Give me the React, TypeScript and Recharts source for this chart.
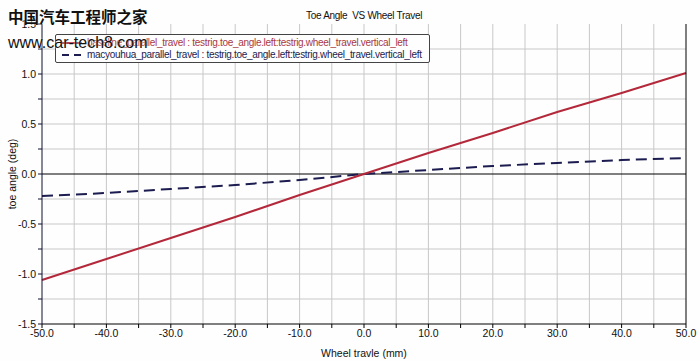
import {
  Line,
  LineChart,
  ReferenceLine,
  XAxis,
  YAxis,
} from "recharts";

const travel = [-50, -40, -30, -20, -10, 0, 10, 20, 30, 40, 50];
const baseline = [-1.06, -0.85, -0.64, -0.43, -0.21, 0.0, 0.21, 0.41, 0.62, 0.81, 1.01];
const macyouhua = [-0.22, -0.19, -0.15, -0.11, -0.06, 0.0, 0.04, 0.08, 0.11, 0.14, 0.16];

const xTicks = [
  -50, -45, -40, -35, -30, -25, -20, -15, -10, -5, 0, 5, 10, 15, 20, 25, 30, 35,
  40, 45, 50,
];
const yTicks = [
  -1.5, -1.25, -1.0, -0.75, -0.5, -0.25, 0, 0.25, 0.5, 0.75, 1.0, 1.25, 1.5,
];

const seriesNames = [
  "baseline_parallel_travel : testrig.toe_angle.left:testrig.wheel_travel.vertical_left",
  "macyouhua_parallel_travel : testrig.toe_angle.left:testrig.wheel_travel.vertical_left",
];

const data = travel.map((t, i) => ({
  travel: t,
  baseline: baseline[i],
  macyouhua: macyouhua[i],
}));

const RED = "#b3283a";
const NAVY = "#1c1c50";
const GRID = "#c8c8c8";
const FONT = "'Liberation Sans', Arial, sans-serif";

const formatX = (v: number) => (v % 10 === 0 ? v.toFixed(1) : "");
const formatY = (v: number) =>
  Math.abs(v * 2 - Math.round(v * 2)) < 1e-6 ? v.toFixed(1) : "";

export default function App() {
  return (
    <div
      style={{
        position: "absolute",
        left: 0,
        top: 0,
        width: 700,
        height: 361,
        background: "#fdfefd",
        fontFamily: FONT,
      }}
    >
      <LineChart
        width={700}
        height={361}
        data={data}
        margin={{ top: 24, right: 0, bottom: 0, left: 0 }}
      >
        <XAxis
          type="number"
          dataKey="travel"
          domain={[-50, 50]}
          ticks={xTicks}
          interval={0}
          tickFormatter={formatX}
          tickSize={4}
          height={37}
          stroke="#000"
          tick={{ fill: "#111", fontSize: 10.5, fontFamily: FONT }}
          label={{
            value: "Wheel travle (mm)",
            position: "insideBottom",
            offset: 4,
            fill: "#111",
            fontSize: 10.5,
            fontFamily: FONT,
          }}
        />
        <XAxis
          xAxisId="top"
          orientation="top"
          type="number"
          domain={[-50, 50]}
          tick={false}
          tickLine={false}
          height={0}
          stroke="#555"
        />
        <YAxis
          type="number"
          domain={[-1.5, 1.5]}
          ticks={yTicks}
          interval={0}
          tickFormatter={formatY}
          tickSize={4}
          width={42}
          stroke="#101030"
          allowDataOverflow
          tick={{ fill: "#111", fontSize: 10.5, fontFamily: FONT }}
          label={{
            value: "toe angle (deg)",
            angle: -90,
            position: "insideLeft",
            offset: 12,
            style: { textAnchor: "middle" },
            fill: "#111",
            fontSize: 10.5,
            fontFamily: FONT,
          }}
        />
        <YAxis
          yAxisId="right"
          orientation="right"
          domain={[-1.5, 1.5]}
          tick={false}
          tickLine={false}
          width={14}
          stroke="#000"
        />
        {xTicks.slice(1, -1).map((t) => (
          <ReferenceLine key={`gx${t}`} x={t} stroke={GRID} strokeWidth={1} />
        ))}
        {yTicks
          .slice(1, -1)
          .filter((t) => t !== 0)
          .map((t) => (
            <ReferenceLine key={`gy${t}`} y={t} stroke={GRID} strokeWidth={1} />
          ))}
        <ReferenceLine y={0} stroke="#000" strokeWidth={1} />
        <Line
          dataKey="macyouhua"
          stroke={NAVY}
          strokeWidth={2}
          strokeDasharray="11 6"
          dot={false}
          isAnimationActive={false}
        />
        <Line
          dataKey="baseline"
          stroke={RED}
          strokeWidth={2}
          dot={false}
          isAnimationActive={false}
        />
      </LineChart>

      <div
        style={{
          position: "absolute",
          left: 306,
          top: 10,
          fontSize: 10,
          letterSpacing: -0.3,
          color: "#111",
        }}
      >
        Toe Angle&nbsp; VS Wheel Travel
      </div>

      <div
        style={{
          position: "absolute",
          left: 55,
          top: 34,
          width: 375,
          height: 29,
          border: "1px solid #444",
          borderRadius: 2,
          background: "#fdfefd",
          fontSize: 10,
          letterSpacing: -0.3,
          boxSizing: "border-box",
          zIndex: 2,
        }}
      >
        {seriesNames.map((name, i) => (
          <div
            key={name}
            style={{
              position: "absolute",
              left: 6,
              top: i === 0 ? 2 : 14,
              display: "flex",
              alignItems: "center",
              whiteSpace: "nowrap",
              lineHeight: "11px",
              color: i === 0 ? "#a83848" : NAVY,
            }}
          >
            <svg width={22} height={10} style={{ marginRight: 3 }}>
              <line
                x1={0}
                y1={5}
                x2={20}
                y2={5}
                stroke={i === 0 ? RED : NAVY}
                strokeWidth={2}
                strokeDasharray={i === 0 ? undefined : "7 5"}
              />
            </svg>
            {name}
          </div>
        ))}
      </div>

      <div
        style={{
          position: "absolute",
          left: 8,
          top: 5,
          fontSize: 15.5,
          fontWeight: "bold",
          color: "#111",
          fontFamily: "'Noto Sans CJK SC', sans-serif",
          lineHeight: "22px",
          textShadow: "0 0 2px #fff",
          zIndex: 3,
        }}
      >
        中国汽车工程师之家
      </div>
      <div
        style={{
          position: "absolute",
          left: 8,
          top: 33,
          fontSize: 16,
          color: "#111",
          lineHeight: "20px",
          textShadow: "0 0 2px #fff",
          zIndex: 3,
        }}
      >
        www.car-tech8.com
      </div>
    </div>
  );
}
